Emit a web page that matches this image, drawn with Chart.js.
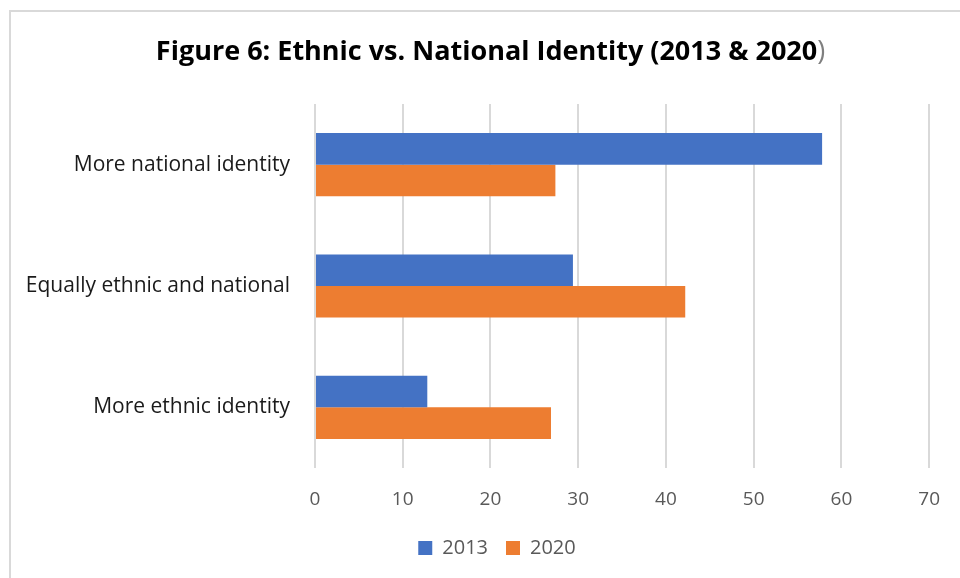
<!DOCTYPE html>
<html>
<head>
<meta charset="utf-8">
<script src="https://cdn.jsdelivr.net/npm/chart.js@4"></script>
<style>
  html, body { margin: 0; padding: 0; background: #fff; }
  #wrap { position: relative; width: 960px; height: 578px; }
  #frame { position: absolute; left: 9px; top: 10px; width: 1000px; height: 600px;
           border-left: 2px solid #d9d9d9; border-top: 2px solid #d9d9d9; box-sizing: border-box; }
  canvas { position: absolute; left: 0; top: 0; }
</style>
</head>
<body>
<div id="wrap">
  <div id="frame"></div>
  <canvas id="c" width="960" height="578"></canvas>
</div>
<script>
// Figure 6 — ethnic vs national identity, horizontal grouped bars.
const categories = ['More national identity', 'Equally ethnic and national', 'More ethnic identity'];
const series2013 = [57.8, 29.4, 12.8];
const series2020 = [27.4, 42.2, 26.9];
const seriesNames = ['2013', '2020'];
const xTicks = [0, 10, 20, 30, 40, 50, 60, 70];

const FONT = "'Open Sans', sans-serif";
const BLUE = '#4472c4';
const ORANGE = '#ed7d31';

// Title drawn by hand so the closing paren can be grey, as in the source.
const titlePlugin = {
  id: 'figTitle',
  afterDraw(chart) {
    const ctx = chart.ctx;
    const a = 'Figure 6: Ethnic vs. National Identity (2013 & 2020';
    const b = ')';
    const targetW = 671;
    ctx.save();
    ctx.font = `bold 27px ${FONT}`;
    const wa = ctx.measureText(a).width;
    ctx.font = `27px ${FONT}`;
    const wb = ctx.measureText(b).width;
    const k = Math.min(1, targetW / (wa + wb));
    ctx.translate(490.5 - (wa + wb) * k / 2, 52);
    ctx.scale(k, 1);
    ctx.textBaseline = 'middle';
    ctx.font = `bold 27px ${FONT}`;
    ctx.fillStyle = '#000';
    ctx.fillText(a, 0, 0);
    ctx.font = `27px ${FONT}`;
    ctx.fillStyle = '#7f7f7f';
    ctx.fillText(b, wa, 0);
    ctx.restore();
  }
};

// The source legend sits centred under the plot, not the canvas: nudge it right.
const legendShift = {
  id: 'legendShift',
  afterLayout(chart) {
    chart.legend.left += 32;
    chart.legend.right += 32;
  }
};

new Chart(document.getElementById('c'), {
  type: 'bar',
  data: {
    labels: categories,
    datasets: [
      { label: seriesNames[0], data: series2013, backgroundColor: BLUE },
      { label: seriesNames[1], data: series2020, backgroundColor: ORANGE },
    ],
  },
  options: {
    indexAxis: 'y',
    responsive: false,
    animation: false,
    devicePixelRatio: 1,
    layout: { padding: { top: 104, right: 30, left: 0, bottom: 10 } },
    datasets: { bar: { categoryPercentage: 0.52, barPercentage: 1.0 } },
    scales: {
      x: {
        min: 0, max: 70,
        afterBuildTicks: (s) => { s.ticks = xTicks.map(v => ({ value: v })); },
        grid: { color: '#d9d9d9', lineWidth: 2, drawTicks: false },
        border: { display: false },
        ticks: { color: '#595959', font: { family: FONT, size: 19 }, padding: 20 },
        afterFit: (s) => { s.height = 52; },
      },
      y: {
        grid: { display: false },
        border: { display: false },
        ticks: { color: '#1a1a1a', font: { family: FONT, size: 21 }, padding: 17 },
        afterFit: (s) => { s.width = 315; },
      },
    },
    plugins: {
      title: { display: false },
      tooltip: { enabled: false },
      legend: {
        position: 'bottom',
        labels: {
          color: '#595959',
          font: { family: FONT, size: 20 },
          boxWidth: 14, boxHeight: 14,
          padding: 18,
        },
      },
    },
  },
  plugins: [titlePlugin, legendShift],
});
</script>
</body>
</html>
